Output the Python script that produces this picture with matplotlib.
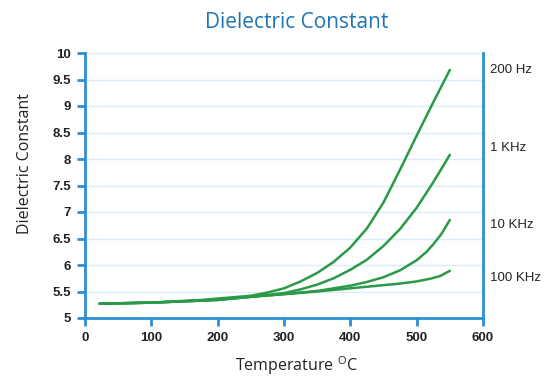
import matplotlib
matplotlib.use("Agg")
import matplotlib.pyplot as plt

# Data
temp_200hz = [22, 100, 175, 250, 275, 300, 325, 350, 375, 400, 425, 450, 475, 500, 525, 550]
dc_200hz = [5.27, 5.29, 5.34, 5.42, 5.48, 5.56, 5.69, 5.85, 6.06, 6.33, 6.69, 7.18, 7.80, 8.44, 9.07, 9.68]

temp_1khz = [22, 100, 175, 250, 300, 325, 350, 375, 400, 425, 450, 475, 500, 525, 550]
dc_1khz = [5.27, 5.29, 5.33, 5.40, 5.47, 5.54, 5.63, 5.75, 5.91, 6.10, 6.36, 6.68, 7.08, 7.56, 8.08]

temp_10khz = [22, 100, 200, 250, 300, 350, 400, 425, 450, 475, 500, 515, 525, 537, 550]
dc_10khz = [5.27, 5.29, 5.34, 5.40, 5.45, 5.51, 5.61, 5.68, 5.77, 5.90, 6.09, 6.25, 6.39, 6.58, 6.85]

temp_100khz = [22, 100, 200, 250, 300, 350, 400, 450, 475, 500, 520, 535, 550]
dc_100khz = [5.27, 5.29, 5.34, 5.40, 5.45, 5.50, 5.56, 5.62, 5.65, 5.69, 5.74, 5.79, 5.89]

series = [
    (temp_200hz, dc_200hz, "200 Hz"),
    (temp_1khz, dc_1khz, "1 KHz"),
    (temp_10khz, dc_10khz, "10 KHz"),
    (temp_100khz, dc_100khz, "100 KHz"),
]
label_y = [9.68, 8.2, 6.75, 5.75]

x_ticks = [0, 100, 200, 300, 400, 500, 600]
y_ticks = [5, 5.5, 6, 6.5, 7, 7.5, 8, 8.5, 9, 9.5, 10]
y_tick_labels = ["5", "5.5", "6", "6.5", "7", "7.5", "8", "8.5", "9", "9.5", "10"]

plt.rcParams['font.family'] = ['Liberation Sans', 'DejaVu Sans']
plt.rcParams['mathtext.fontset'] = 'custom'
plt.rcParams['mathtext.rm'] = 'Open Sans'

fig = plt.figure(figsize=(5.53, 3.79), dpi=100)
ax = fig.add_axes([85/553, 61/379, 398/553, 265/379])

blue = "#2b8fd3"
green = "#2a9a48"
grid_c = "#d8eefb"

for y in y_ticks[1:]:
    ax.axhline(y, color=grid_c, lw=1.0, zorder=0)

for xs, ys, name in series:
    ax.plot(xs, ys, color=green, lw=1.8, solid_capstyle='round',
            solid_joinstyle='round', zorder=3)

ax.set_xlim(0, 600)
ax.set_ylim(5, 10)
ax.set_xticks(x_ticks)
ax.set_yticks(y_ticks)
ax.set_yticklabels(y_tick_labels)

for s in ["left", "bottom", "right"]:
    ax.spines[s].set_color(blue)
    ax.spines[s].set_linewidth(2)
ax.spines["top"].set_visible(False)

ax.tick_params(axis='both', colors=blue, width=2, length=6, labelcolor="#222222",
               labelsize=9.5, pad=4)
for lab in ax.get_xticklabels() + ax.get_yticklabels():
    lab.set_fontweight('bold')

for (xs, ys, name), ly in zip(series, label_y):
    ax.text(1.018, ly, name, transform=ax.get_yaxis_transform(), fontsize=9.5,
            color="#222222", va='center', ha='left')

fig.text(297/553, 1 - 22/379, "Dielectric Constant", color="#1f74b3", fontsize=15,
         family="Open Sans", ha='center', va='center')
fig.text(25/553, 1 - 164/379, "Dielectric Constant", color="#222222", fontsize=11.5,
         family="Open Sans", rotation=90, ha='center', va='center')
fig.text(296/553, 1 - 371/379, r"Temperature $^{\mathrm{O}}$C", color="#222222",
         fontsize=11.5, family="Open Sans", ha='center', va='baseline')

fig.savefig("out.png", dpi=100)
